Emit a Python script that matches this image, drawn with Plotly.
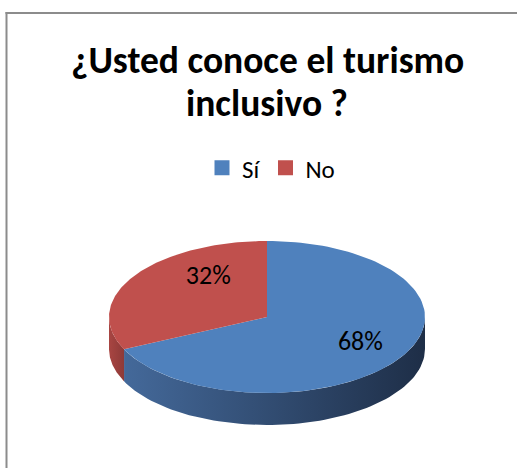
import numpy as np
import plotly.graph_objects as go

W, H = 517, 468

title_lines = ["¿Usted conoce el turismo", "inclusivo ?"]
categories = ["Sí", "No"]
values = [68, 32]
top_colors = ["#4F81BD", "#C0504D"]
side_scales = [
    [[0, "#44699A"], [1, "#1E2E47"]],
    [[0, "#A84542"], [1, "#8E3A38"]],
]

# ellipse geometry of the tilted pie (pixel units)
cx, cy = 267, 317
rx, ry = 158, 76
depth = 32

# label placement factors (x, y) along the mid angle
label_f = [(0.70, 0.64), (0.44, 0.96)]

FONT = "Carlito, Lato, sans-serif"
FRAME = "#8C8C8C"


def pt(theta, r=1.0, dz=0):
    # theta in degrees, clockwise from 12 o'clock
    t = np.radians(theta)
    return cx + r * rx * np.sin(t), cy - r * ry * np.cos(t) + dz


fig = go.Figure()

total = sum(values)
bounds = []
a = 0.0
for v in values:
    bounds.append((a, a + 360.0 * v / total))
    a += 360.0 * v / total

# visible side walls (front half: 90..270 degrees)
for (a0, a1), scale in zip(bounds, side_scales):
    s0, s1 = max(a0, 90), min(a1, 270)
    if s1 <= s0:
        continue
    th = np.linspace(s0, s1, 80)
    xt, yt = pt(th)
    xb, yb = pt(th[::-1], dz=depth)
    fig.add_trace(go.Scatter(
        x=np.concatenate([xt, xb, xt[:1]]), y=np.concatenate([yt, yb, yt[:1]]),
        mode="lines", line=dict(width=0), fill="toself",
        fillgradient=dict(type="horizontal", colorscale=scale),
        hoverinfo="skip", showlegend=False))

# top faces
for (a0, a1), col in zip(bounds, top_colors):
    th = np.linspace(a0, a1, 120)
    xs, ys = pt(th)
    fig.add_trace(go.Scatter(
        x=np.concatenate([[cx], xs, [cx]]), y=np.concatenate([[cy], ys, [cy]]),
        mode="lines", line=dict(width=0, color=col), fill="toself", fillcolor=col,
        hoverinfo="skip", showlegend=False))

# percentage labels
for (a0, a1), v, (fx, fy) in zip(bounds, values, label_f):
    mid = np.radians((a0 + a1) / 2)
    lx = cx + fx * rx * np.sin(mid)
    ly = cy - fy * ry * np.cos(mid)
    fig.add_trace(go.Scatter(
        x=[lx], y=[ly], mode="text", text=[f"{round(100 * v / total)}%"],
        textfont=dict(size=26, color="black", family=FONT),
        hoverinfo="skip", showlegend=False))

# legend entries
for name, col in zip(categories, top_colors):
    fig.add_trace(go.Scatter(
        x=[None], y=[None], mode="markers", name=name,
        marker=dict(symbol="square", size=15, color=col)))

# title, one annotation per line
for i, line in enumerate(title_lines):
    fig.add_annotation(
        text=f"<b>{line}</b>", x=267 / W, y=1 - (60 + 43 * i) / H,
        xref="paper", yref="paper", xanchor="center", yanchor="middle",
        showarrow=False, font=dict(size=37.5, color="black", family=FONT))

fig.update_layout(
    width=W, height=H,
    margin=dict(l=0, r=0, t=0, b=0),
    paper_bgcolor="white", plot_bgcolor="white",
    xaxis=dict(range=[0, W], visible=False, fixedrange=True),
    yaxis=dict(range=[H, 0], visible=False, fixedrange=True),
    legend=dict(
        orientation="h", x=202 / W, xanchor="left", y=1 - 168 / H, yanchor="middle",
        bgcolor="rgba(0,0,0,0)",
        font=dict(size=25, color="black", family=FONT)),
    # chart-area frame: thin filled strips for the top and left edges
    shapes=[
        dict(type="rect", xref="x", yref="y", x0=5.5, x1=W, y0=12, y1=14,
             fillcolor=FRAME, line=dict(width=0), layer="above"),
        dict(type="rect", xref="x", yref="y", x0=5.5, x1=7.5, y0=12, y1=H,
             fillcolor=FRAME, line=dict(width=0), layer="above"),
    ],
)

fig.write_html("out.html", post_script="document.body.style.margin='0';",
               config={"displayModeBar": False})
